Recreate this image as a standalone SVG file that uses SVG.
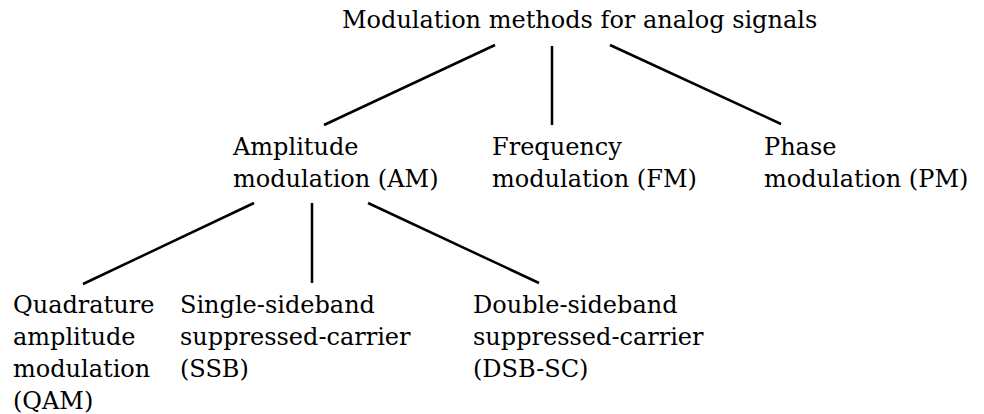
<svg xmlns="http://www.w3.org/2000/svg" width="984" height="414" viewBox="0 0 984 414">
<style>
text{font-family:"DejaVu Serif","Liberation Serif",serif;font-size:24px;fill:#000}
.c line{stroke:#000;stroke-width:2.5}
</style>
<rect width="984" height="414" fill="#fff"/>
<g class="c" id="connectors">
<line x1="495" y1="45" x2="324" y2="125"/>
<line x1="552" y1="46" x2="552" y2="125"/>
<line x1="610" y1="45" x2="781" y2="124"/>
<line x1="254" y1="203" x2="83" y2="284"/>
<line x1="312" y1="203" x2="312" y2="283"/>
<line x1="368" y1="203" x2="539" y2="283"/>
</g>
<g id="root"><text x="342" y="28">Modulation methods for analog signals</text></g>
<g id="am"><text x="233" y="155">Amplitude</text><text x="233" y="187">modulation (AM)</text></g>
<g id="fm"><text x="492" y="155">Frequency</text><text x="492" y="187">modulation (FM)</text></g>
<g id="pm"><text x="764" y="155">Phase</text><text x="764" y="187">modulation (PM)</text></g>
<g id="qam"><text x="13" y="313">Quadrature</text><text x="13" y="345">amplitude</text><text x="13" y="377">modulation</text><text x="13" y="409">(QAM)</text></g>
<g id="ssb"><text x="180" y="313">Single-sideband</text><text x="180" y="345">suppressed-carrier</text><text x="180" y="377">(SSB)</text></g>
<g id="dsb"><text x="473" y="313">Double-sideband</text><text x="473" y="345">suppressed-carrier</text><text x="473" y="377">(DSB-SC)</text></g>
</svg>
